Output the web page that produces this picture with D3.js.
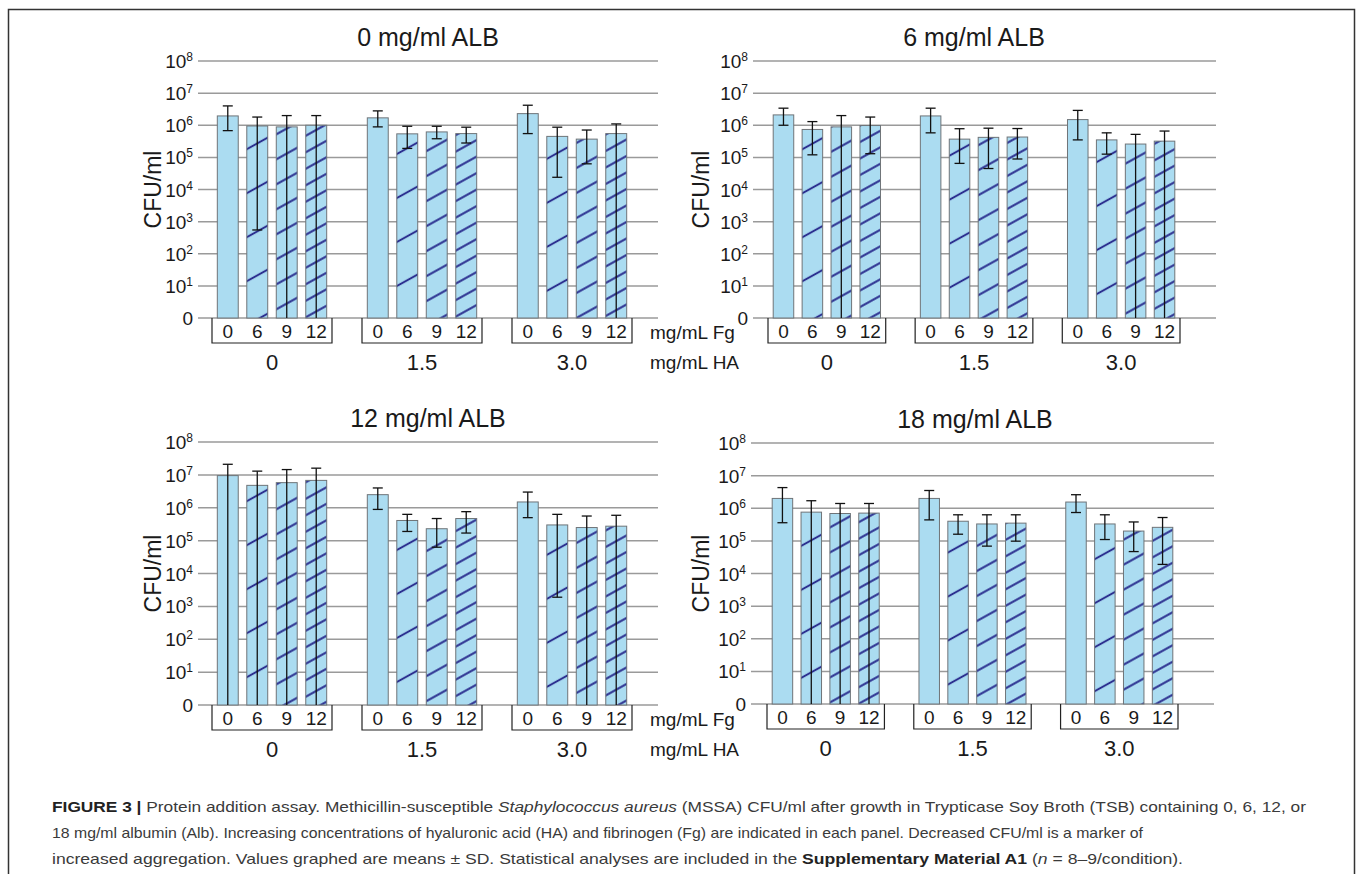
<!DOCTYPE html>
<html lang="en">
<head>
<meta charset="utf-8">
<title>Protein addition assay</title>
<script src="https://d3js.org/d3.v7.min.js"></script>
<style>
  body { margin: 0; background: #fff; }
  svg { display: block; }
</style>
</head>
<body>
<script>
// categories
var fgLevels = ["0", "6", "9", "12"];
var haLevels = ["0", "1.5", "3.0"];
var panelTitles = ["0 mg/ml ALB", "6 mg/ml ALB", "12 mg/ml ALB", "18 mg/ml ALB"];
var yTicks = [1, 1e1, 1e2, 1e3, 1e4, 1e5, 1e6, 1e7, 1e8];

// CFU/ml means and error bar ends, ordered HA 0 (Fg 0,6,9,12), HA 1.5 (...), HA 3.0 (...)
var meanAlb0  = [1.95e6, 9.5e5, 8.9e5, 1.0e6,  1.7e6, 5.4e5, 6.2e5, 5.5e5,  2.3e6, 4.5e5, 3.7e5, 5.5e5];
var upperAlb0 = [4.0e6, 1.8e6, 2.0e6, 2.0e6,   2.8e6, 9.3e5, 9.3e5, 8.7e5,  4.2e6, 8.7e5, 7.1e5, 1.1e6];
var lowerAlb0 = [6.8e5, 5.5e2, 1, 1,           8.9e5, 1.9e5, 3.8e5, 2.8e5,  5.5e5, 2.4e4, 6.3e4, 1];

var meanAlb6  = [2.1e6, 7.4e5, 8.9e5, 9.8e5,  1.95e6, 3.7e5, 4.2e5, 4.3e5,  1.5e6, 3.5e5, 2.6e5, 3.2e5];
var upperAlb6 = [3.4e6, 1.3e6, 2.0e6, 1.8e6,  3.4e6, 7.8e5, 8.1e5, 7.9e5,   2.9e6, 5.8e5, 5.2e5, 6.6e5];
var lowerAlb6 = [1.0e6, 1.2e5, 1, 1.3e5,      5.8e5, 6.5e4, 4.5e4, 8.9e4,   3.5e5, 1.26e5, 1, 1];

var meanAlb12  = [9.5e6, 4.8e6, 5.8e6, 6.8e6,  2.5e6, 4.1e5, 2.3e5, 4.7e5,  1.5e6, 3.0e5, 2.5e5, 2.75e5];
var upperAlb12 = [2.1e7, 1.3e7, 1.45e7, 1.6e7, 4.0e6, 6.3e5, 4.7e5, 7.6e5,  3.0e6, 6.3e5, 5.6e5, 5.9e5];
var lowerAlb12 = [1, 1, 1, 1,                  8.9e5, 1.9e5, 6.3e4, 1.7e5,  5.0e5, 1.9e3, 1, 1];

var meanAlb18  = [2.0e6, 7.6e5, 6.9e5, 7.1e5,  2.0e6, 4.0e5, 3.3e5, 3.5e5,  1.55e6, 3.3e5, 2.0e5, 2.6e5];
var upperAlb18 = [4.3e6, 1.7e6, 1.4e6, 1.4e6,  3.5e6, 6.3e5, 6.3e5, 6.3e5,  2.6e6, 6.3e5, 3.8e5, 5.2e5];
var lowerAlb18 = [3.6e5, 1, 1, 1,              4.4e5, 1.6e5, 6.9e4, 9.8e4,  7.4e5, 1.1e5, 4.7e4, 1.9e4];

// layout of the four panels
var panels = [
  { title: panelTitles[0], mean: meanAlb0,  upper: upperAlb0,  lower: lowerAlb0,
    gx0: 198, gx1: 658,  bx0: 212, bx1: 632,  top: 61,  bottom: 318, tx: 428, lx: 153 },
  { title: panelTitles[1], mean: meanAlb6,  upper: upperAlb6,  lower: lowerAlb6,
    gx0: 753, gx1: 1216, bx0: 768, bx1: 1180, top: 61,  bottom: 318, tx: 974, lx: 701 },
  { title: panelTitles[2], mean: meanAlb12, upper: upperAlb12, lower: lowerAlb12,
    gx0: 198, gx1: 658,  bx0: 212, bx1: 632,  top: 442, bottom: 705, tx: 428, lx: 153 },
  { title: panelTitles[3], mean: meanAlb18, upper: upperAlb18, lower: lowerAlb18,
    gx0: 751, gx1: 1214, bx0: 767, bx1: 1178, top: 443, bottom: 704, tx: 975, lx: 701 }
];

var chartFont = "Liberation Sans",
  captionFont = "Liberation Sans Narrow";

var barFill = "#abdcf1",
  barStroke = "#6f7478",
  hatchColor = "#2b2f8f",
  gridColor = "#9a9a9a";

// hatch spacing for each Fg level (none for 0)
var hatchGap = { "6": 44, "9": 25, "12": 16.5 };

var svg = d3.select("body").append("svg")
  .attr("width", 1357)
  .attr("height", 874)
  .attr("font-family", chartFont);

svg.append("rect").attr("width", 1357).attr("height", 874).attr("fill", "#fff");

// frame round the figure (open at the bottom)
svg.append("path")
  .attr("d", "M8.5,874 V9.5 H1354.5 V874")
  .attr("fill", "none")
  .attr("stroke", "#333")
  .attr("stroke-width", 1.5);

// diagonal hatch patterns
var defs = svg.append("defs");
Object.keys(hatchGap).forEach(function(k) {
  var gap = hatchGap[k];
  var p = defs.append("pattern")
    .attr("id", "hatch" + k)
    .attr("patternUnits", "userSpaceOnUse")
    .attr("width", 10)
    .attr("height", gap)
    .attr("patternTransform", "skewY(-29)");
  p.append("line")
    .attr("x1", -1).attr("x2", 11)
    .attr("y1", gap / 2).attr("y2", gap / 2)
    .attr("stroke", hatchColor)
    .attr("stroke-width", 2.3);
});

function supLabel(sel, v) {
  if (v === 1) {
    sel.text("0");
  } else {
    sel.append("tspan").text("10");
    sel.append("tspan")
      .attr("dy", -7)
      .attr("font-size", 12)
      .text(Math.round(Math.log10(v)));
  }
}

panels.forEach(function(pn) {
  var g = svg.append("g").attr("fill", "#1a1a1a");

  var y = d3.scaleLog().domain([1, 1e8]).range([pn.bottom, pn.top]);

  var xGroup = d3.scaleBand()
    .domain(haLevels)
    .range([pn.bx0, pn.bx1])
    .paddingInner(0.2)
    .paddingOuter(0);

  var xBar = d3.scaleBand()
    .domain(fgLevels)
    .range([0, xGroup.bandwidth()])
    .paddingInner(0.29)
    .paddingOuter(0.18);

  // title
  g.append("text")
    .attr("x", pn.tx)
    .attr("y", pn.top - 15)
    .attr("text-anchor", "middle")
    .attr("font-size", 25)
    .text(pn.title);

  // y label
  g.append("text")
    .attr("transform", "translate(" + pn.lx + "," + (pn.top + pn.bottom) / 2 + ") rotate(-90)")
    .attr("text-anchor", "middle")
    .attr("dominant-baseline", "central")
    .attr("font-size", 23)
    .text("CFU/ml");

  // gridlines
  g.selectAll(".grid").data(yTicks).enter().append("line")
    .attr("x1", pn.gx0).attr("x2", pn.gx1)
    .attr("y1", function(d) { return y(d); })
    .attr("y2", function(d) { return y(d); })
    .attr("stroke", gridColor)
    .attr("stroke-width", 1.5);

  // tick labels
  g.selectAll(".tick").data(yTicks).enter().append("text")
    .attr("x", pn.gx0 - 5)
    .attr("y", function(d) { return y(d) + 7; })
    .attr("text-anchor", "end")
    .attr("font-size", 19)
    .each(function(d) { supLabel(d3.select(this), d); });

  // bars
  var rows = [];
  haLevels.forEach(function(ha, i) {
    fgLevels.forEach(function(fg, j) {
      var k = i * fgLevels.length + j;
      rows.push({ ha: ha, fg: fg, mean: pn.mean[k], upper: pn.upper[k], lower: pn.lower[k] });
    });
  });

  var bx = function(d) { return xGroup(d.ha) + xBar(d.fg); };
  var bw = xBar.bandwidth();

  g.selectAll(".bar").data(rows).enter().append("rect")
    .attr("x", bx)
    .attr("y", function(d) { return y(d.mean); })
    .attr("width", bw)
    .attr("height", function(d) { return y(1) - y(d.mean); })
    .attr("fill", barFill);

  g.selectAll(".hatch").data(rows.filter(function(d) { return hatchGap[d.fg]; })).enter().append("rect")
    .attr("x", bx)
    .attr("y", function(d) { return y(d.mean); })
    .attr("width", bw)
    .attr("height", function(d) { return y(1) - y(d.mean); })
    .attr("fill", function(d) { return "url(#hatch" + d.fg + ")"; });

  g.selectAll(".barEdge").data(rows).enter().append("rect")
    .attr("x", bx)
    .attr("y", function(d) { return y(d.mean); })
    .attr("width", bw)
    .attr("height", function(d) { return y(1) - y(d.mean); })
    .attr("fill", "none")
    .attr("stroke", barStroke)
    .attr("stroke-width", 1);

  // error bars
  var eb = g.selectAll(".err").data(rows).enter().append("g")
    .attr("transform", function(d) { return "translate(" + (bx(d) + bw / 2) + ",0)"; });
  eb.append("line")
    .attr("y1", function(d) { return y(d.lower); })
    .attr("y2", function(d) { return y(d.upper); })
    .attr("stroke", "#111").attr("stroke-width", 1.3);
  eb.append("line")
    .attr("x1", -5).attr("x2", 5)
    .attr("y1", function(d) { return y(d.upper); })
    .attr("y2", function(d) { return y(d.upper); })
    .attr("stroke", "#111").attr("stroke-width", 1.3);
  eb.filter(function(d) { return d.lower > 1; }).append("line")
    .attr("x1", -5).attr("x2", 5)
    .attr("y1", function(d) { return y(d.lower); })
    .attr("y2", function(d) { return y(d.lower); })
    .attr("stroke", "#111").attr("stroke-width", 1.3);

  // boxes under each HA group
  var boxH = 25;
  g.selectAll(".box").data(haLevels).enter().append("path")
    .attr("d", function(d) {
      var x0 = xGroup(d), x1 = x0 + xGroup.bandwidth();
      return "M" + x0 + "," + pn.bottom + " V" + (pn.bottom + boxH) + " H" + x1 + " V" + pn.bottom;
    })
    .attr("fill", "none")
    .attr("stroke", "#222")
    .attr("stroke-width", 1.2);

  g.selectAll(".fgLab").data(rows).enter().append("text")
    .attr("x", function(d) { return bx(d) + bw / 2; })
    .attr("y", pn.bottom + 20)
    .attr("text-anchor", "middle")
    .attr("font-size", 19)
    .text(function(d) { return d.fg; });

  g.selectAll(".haLab").data(haLevels).enter().append("text")
    .attr("x", function(d) { return xGroup(d) + xGroup.bandwidth() / 2; })
    .attr("y", pn.bottom + 52)
    .attr("text-anchor", "middle")
    .attr("font-size", 22)
    .text(function(d) { return d; });
});

// row labels between the panels
[318, 705].forEach(function(b) {
  svg.append("text").attr("fill", "#1a1a1a")
    .attr("x", 650).attr("y", b + 21).attr("font-size", 19).text("mg/mL Fg");
  svg.append("text").attr("fill", "#1a1a1a")
    .attr("x", 650).attr("y", b + 51).attr("font-size", 19).text("mg/mL HA");
});

// caption
var cap = svg.append("g")
  .attr("font-family", captionFont + ", Liberation Sans, sans-serif")
  .attr("font-size", 15)
  .attr("fill", "#3a3a3a");
var l1 = cap.append("text").attr("x", 52).attr("y", 812)
  .attr("textLength", 1254).attr("lengthAdjust", "spacingAndGlyphs");
l1.append("tspan").attr("font-weight", "bold").attr("fill", "#222").text("FIGURE 3 | ");
l1.append("tspan").text("Protein addition assay. Methicillin-susceptible ");
l1.append("tspan").attr("font-style", "italic").text("Staphylococcus aureus");
l1.append("tspan").text(" (MSSA) CFU/ml after growth in Trypticase Soy Broth (TSB) containing 0, 6, 12, or");

cap.append("text").attr("x", 52).attr("y", 838)
  .attr("textLength", 1091).attr("lengthAdjust", "spacingAndGlyphs")
  .text("18 mg/ml albumin (Alb). Increasing concentrations of hyaluronic acid (HA) and fibrinogen (Fg) are indicated in each panel. Decreased CFU/ml is a marker of");

var l3 = cap.append("text").attr("x", 52).attr("y", 864)
  .attr("textLength", 1131).attr("lengthAdjust", "spacingAndGlyphs");
l3.append("tspan").text("increased aggregation. Values graphed are means \u00b1 SD. Statistical analyses are included in the ");
l3.append("tspan").attr("font-weight", "bold").attr("fill", "#222").text("Supplementary Material A1");
l3.append("tspan").text(" (");
l3.append("tspan").attr("font-style", "italic").text("n");
l3.append("tspan").text(" = 8\u20139/condition).");
</script>
</body>
</html>
